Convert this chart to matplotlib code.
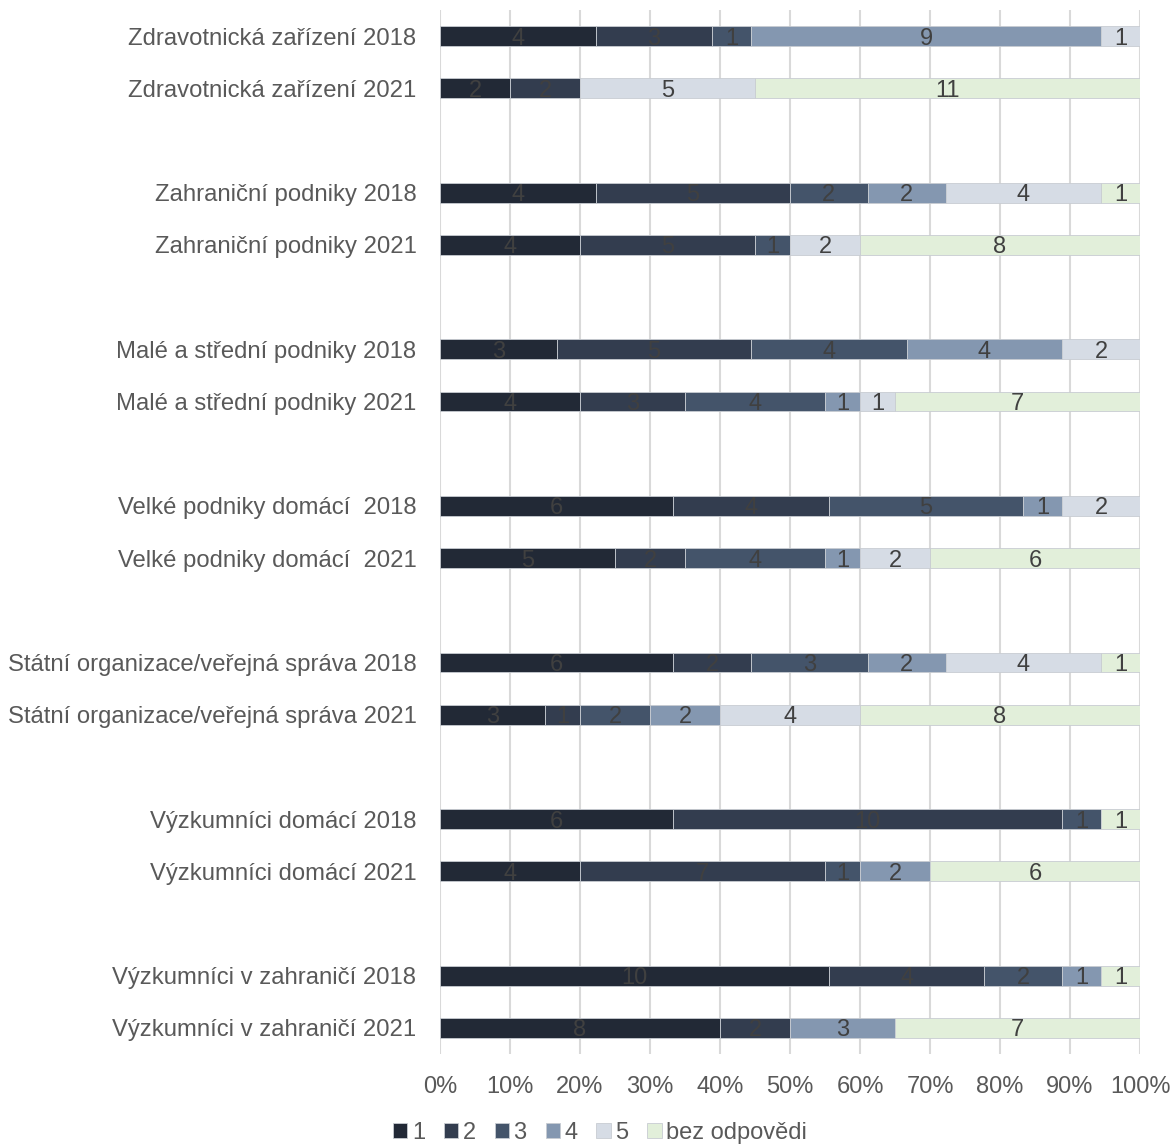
import matplotlib
matplotlib.use("Agg")
import matplotlib.pyplot as plt
import numpy as np

plt.rcParams['font.family'] = ['Liberation Sans', 'DejaVu Sans']

categories = [
    "Zdravotnická zařízení 2018",
    "Zdravotnická zařízení 2021",
    "",
    "Zahraniční podniky 2018",
    "Zahraniční podniky 2021",
    "",
    "Malé a střední podniky 2018",
    "Malé a střední podniky 2021",
    "",
    "Velké podniky domácí  2018",
    "Velké podniky domácí  2021",
    "",
    "Státní organizace/veřejná správa 2018",
    "Státní organizace/veřejná správa 2021",
    "",
    "Výzkumníci domácí 2018",
    "Výzkumníci domácí 2021",
    "",
    "Výzkumníci v zahraničí 2018",
    "Výzkumníci v zahraničí 2021",
]

series_names = ["1", "2", "3", "4", "5", "bez odpovědi"]

s1 = [4, 2, 0, 4, 4, 0, 3, 4, 0, 6, 5, 0, 6, 3, 0, 6, 4, 0, 10, 8]
s2 = [3, 2, 0, 5, 5, 0, 5, 3, 0, 4, 2, 0, 2, 1, 0, 10, 7, 0, 4, 2]
s3 = [1, 0, 0, 2, 1, 0, 4, 4, 0, 5, 4, 0, 3, 2, 0, 1, 1, 0, 2, 0]
s4 = [9, 0, 0, 2, 0, 0, 4, 1, 0, 1, 1, 0, 2, 2, 0, 0, 2, 0, 1, 3]
s5 = [1, 5, 0, 4, 2, 0, 2, 1, 0, 2, 2, 0, 4, 4, 0, 0, 0, 0, 0, 0]
s_none = [0, 11, 0, 1, 8, 0, 0, 7, 0, 0, 6, 0, 1, 8, 0, 1, 6, 0, 1, 7]

colors = ["#222936", "#333d4f", "#44546a", "#8497b0", "#d6dce5", "#e2efda"]

data = np.array([s1, s2, s3, s4, s5, s_none], dtype=float)
totals = data.sum(axis=0)
totals[totals == 0] = 1
shares = data / totals

fig = plt.figure(figsize=(11.74, 11.44), dpi=100)
ax = fig.add_axes([440 / 1174, 1 - 1054 / 1144, 700 / 1174, 1044 / 1144])

y = np.arange(len(categories))
left = np.zeros(len(categories))
for i, name in enumerate(series_names):
    mask = data[i] > 0
    ax.barh(y[mask], shares[i][mask], left=left[mask], height=0.38,
            color=colors[i], edgecolor="#c8ccd2", linewidth=0.6,
            label=name, zorder=3)
    for j in np.where(mask)[0]:
        ax.text(left[j] + shares[i, j] / 2, y[j], f"{int(data[i, j])}",
                ha="center", va="center_baseline", fontsize=17,
                color="#404040", zorder=4)
    left += shares[i]

ax.set_ylim(len(categories) - 0.5, -0.5)
ax.set_xlim(0, 1)
ax.set_yticks(y)
ax.set_yticklabels(categories, fontsize=17.2, color="#595959")
ax.set_xticks(np.linspace(0, 1, 11))
ax.set_xticklabels([f"{int(v)}%" for v in np.linspace(0, 100, 11)],
                   fontsize=17, color="#595959")
ax.tick_params(axis="y", length=0, pad=17)
ax.tick_params(axis="x", length=0, pad=16)
ax.grid(axis="x", color="#d9d9d9", linewidth=1.5, zorder=0)
for sp in ax.spines.values():
    sp.set_visible(False)

handles, labels = ax.get_legend_handles_labels()
fig.legend(handles, labels, loc="center", bbox_to_anchor=(600 / 1174, 1 - 1133 / 1144),
           ncol=6, frameon=False, fontsize=17, handlelength=0.6, handleheight=0.6,
           handletextpad=0.2, columnspacing=0.8, labelcolor="#595959")

fig.savefig("out.png", dpi=100)
